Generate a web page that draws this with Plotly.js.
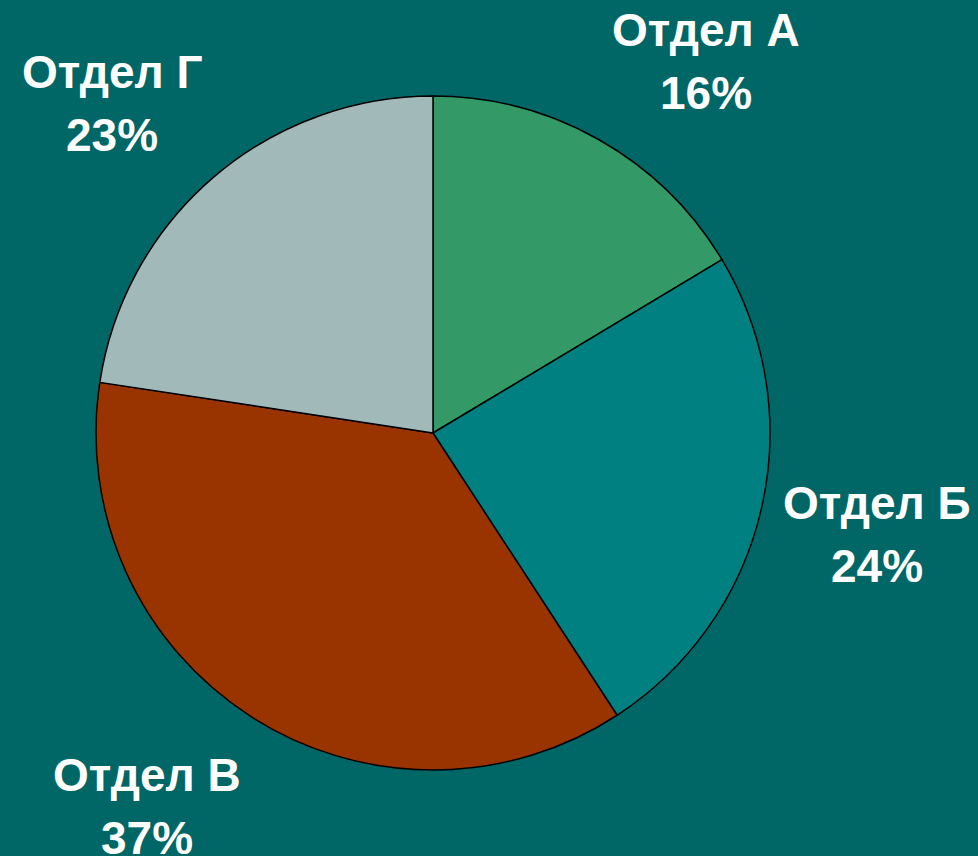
<!DOCTYPE html>
<html>
<head>
<meta charset="utf-8">
<script src="https://cdn.plot.ly/plotly-3.0.1.min.js"></script>
<style>html,body{margin:0;padding:0;background:#006666;}#chart{width:978px;height:856px;}</style>
</head>
<body>
<div id="chart"></div>
<script>
const departments = ["Отдел А", "Отдел Б", "Отдел В", "Отдел Г"];
const shares = [16.4, 24.4, 36.6, 22.6];
const sliceColors = ["#339966", "#008080", "#993300", "#A1B9B9"];
const labelPos = [[706, 30], [877, 503], [147, 775], [112, 72]];

const W = 978, H = 856;
const cx = 433, cy = 433, r = 337;
const lineGap = 63;
const total = shares.reduce((a, b) => a + b, 0);
const labelFont = {family: "Liberation Sans, Arial, sans-serif", size: 46, color: "#ffffff", weight: "bold"};

const annotations = [];
departments.forEach((d, i) => {
  const pct = Math.round(shares[i] / total * 100) + "%";
  [d, pct].forEach((t, k) => {
    annotations.push({
      text: t,
      xref: "paper", yref: "paper",
      x: labelPos[i][0] / W, y: 1 - (labelPos[i][1] + k * lineGap) / H,
      xanchor: "center", yanchor: "middle",
      showarrow: false,
      font: labelFont
    });
  });
});

const data = [{
  type: "pie",
  labels: departments,
  values: shares,
  sort: false,
  direction: "clockwise",
  rotation: 0,
  textinfo: "none",
  hoverinfo: "label+percent",
  marker: {colors: sliceColors, line: {color: "#000000", width: 1.5}},
  domain: {x: [(cx - r) / W, (cx + r) / W], y: [(H - cy - r) / H, (H - cy + r) / H]},
  showlegend: false
}];

const layout = {
  width: W, height: H,
  margin: {l: 0, r: 0, t: 0, b: 0},
  paper_bgcolor: "#006666",
  plot_bgcolor: "#006666",
  showlegend: false,
  annotations: annotations
};

Plotly.newPlot("chart", data, layout, {displayModeBar: false, staticPlot: true});
</script>
</body>
</html>
